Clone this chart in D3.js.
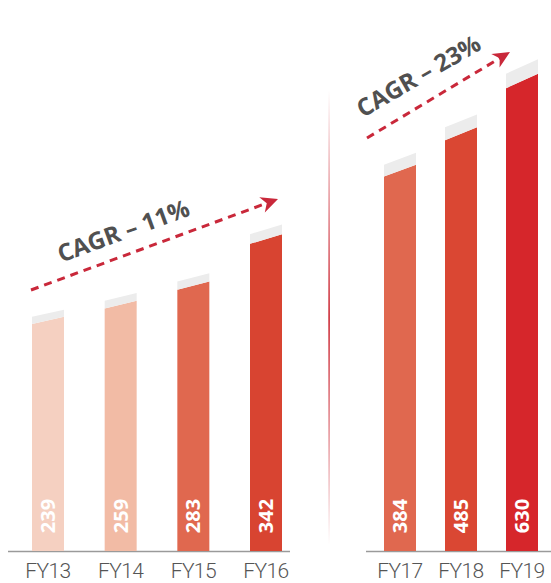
<!DOCTYPE html>
<html>
<head>
<meta charset="utf-8">
<script src="https://cdn.jsdelivr.net/npm/d3@7"></script>
<style>
  html, body { margin: 0; padding: 0; background: #fff; }
  svg { display: block; }
</style>
</head>
<body>
<svg id="chart" width="551" height="583"></svg>
<script>
// data
const yearsA = ["FY13", "FY14", "FY15", "FY16"];
const valuesA = [239, 259, 283, 342];
const colorsA = ["#f5d0c1", "#f2bba5", "#e0684f", "#d84431"];
const cagrA = "CAGR – 11%";

const yearsB = ["FY17", "FY18", "FY19"];
const valuesB = [384, 485, 630];
const colorsB = ["#e0684f", "#da4733", "#d6262b"];
const cagrB = "CAGR – 23%";

const W = 551, H = 583;
const base = 551;
const barW = 32;

const svg = d3.select("#chart");

// divider gradient
const defs = svg.append("defs");
const grad = defs.append("linearGradient")
    .attr("id", "divGrad")
    .attr("x1", 0).attr("y1", 0).attr("x2", 0).attr("y2", 1);
grad.append("stop").attr("offset", "0%").attr("stop-color", "#cc2b36").attr("stop-opacity", 0);
grad.append("stop").attr("offset", "50%").attr("stop-color", "#cc2b36").attr("stop-opacity", 1);
grad.append("stop").attr("offset", "100%").attr("stop-color", "#cc2b36").attr("stop-opacity", 0);

svg.append("rect")
    .attr("x", 328.3).attr("y", 90)
    .attr("width", 1.6).attr("height", 455)
    .attr("fill", "url(#divGrad)");

function panel(years, values, colors, xRange, yDomain, yTop, axisRange) {
    const x = d3.scalePoint().domain(years).range(xRange);
    const y = d3.scaleLinear().domain(yDomain).range([base, yTop]);

    const g = svg.append("g");

    // baseline axis
    g.append("line")
        .attr("x1", axisRange[0]).attr("x2", axisRange[1])
        .attr("y1", base + 0.5).attr("y2", base + 0.5)
        .attr("stroke", "#9a9a9a")
        .attr("stroke-width", 1.6);

    const rows = years.map((d, i) => ({ year: d, value: values[i], color: colors[i] }));

    const bars = g.selectAll(".bar").data(rows).join("g").attr("class", "bar");

    // red body with slanted top
    bars.append("path")
        .attr("fill", d => d.color)
        .attr("d", d => {
            const x0 = x(d.year) - barW / 2, x1 = x(d.year) + barW / 2;
            const t = y(d.value), s = 0.031 * (base - t);
            return `M${x0},${base}L${x1},${base}L${x1},${t - s / 2}L${x0},${t + s / 2}Z`;
        });

    // grey cap
    bars.append("path")
        .attr("fill", "#ececec")
        .attr("d", d => {
            const x0 = x(d.year) - barW / 2, x1 = x(d.year) + barW / 2;
            const t = y(d.value), s = 0.031 * (base - t);
            return `M${x0},${t + s / 2}L${x1},${t - s / 2}L${x1},${t - s * 1.5}L${x0},${t - s / 2}Z`;
        });

    // value label
    bars.append("text")
        .attr("transform", d => `translate(${x(d.year) + 7},516) rotate(-90)`)
        .attr("text-anchor", "middle")
        .attr("font-family", "'Open Sans', sans-serif")
        .attr("font-weight", 700)
        .attr("font-size", 20)
        .attr("fill", "#fff")
        .text(d => d.value);

    // category label
    g.selectAll(".cat").data(years).join("text")
        .attr("class", "cat")
        .attr("x", d => x(d))
        .attr("y", 578)
        .attr("text-anchor", "middle")
        .attr("font-family", "Roboto, sans-serif")
        .attr("font-weight", 300)
        .attr("font-size", 21)
        .attr("letter-spacing", -0.6)
        .attr("fill", "#555")
        .text(d => d);
}

panel(yearsA, valuesA, colorsA, [48, 266], [-53, 342], 239, [8, 290]);
panel(yearsB, valuesB, colorsB, [400, 522], [-661, 630], 81, [366, 551]);

// CAGR arrows
function arrow(x1, y1, x2, y2) {
    const ang = Math.atan2(y2 - y1, x2 - x1);
    const len = Math.hypot(x2 - x1, y2 - y1);
    const g = svg.append("g")
        .attr("transform", `translate(${x1},${y1}) rotate(${ang * 180 / Math.PI})`);
    g.append("line")
        .attr("x1", 0).attr("y1", 0)
        .attr("x2", len - 10).attr("y2", 0)
        .attr("stroke", "#c9283a")
        .attr("stroke-width", 3)
        .attr("stroke-dasharray", "8 6");
    g.append("path")
        .attr("d", `M${len},0L${len - 17},-8L${len - 12},0L${len - 17},8Z`)
        .attr("fill", "#c9283a");
}

arrow(31, 290, 278, 199);
arrow(367, 138, 510, 52);

function cagr(label, cx, cy, angle) {
    svg.append("text")
        .attr("transform", `translate(${cx},${cy}) rotate(${angle})`)
        .attr("text-anchor", "middle")
        .attr("dominant-baseline", "central")
        .attr("font-family", "'Open Sans', sans-serif")
        .attr("font-weight", 700)
        .attr("font-size", 24)
        .attr("fill", "#505050")
        .text(label);
}

cagr(cagrA, 123, 230, -20);
cagr(cagrB, 418, 75, -30);
</script>
</body>
</html>
